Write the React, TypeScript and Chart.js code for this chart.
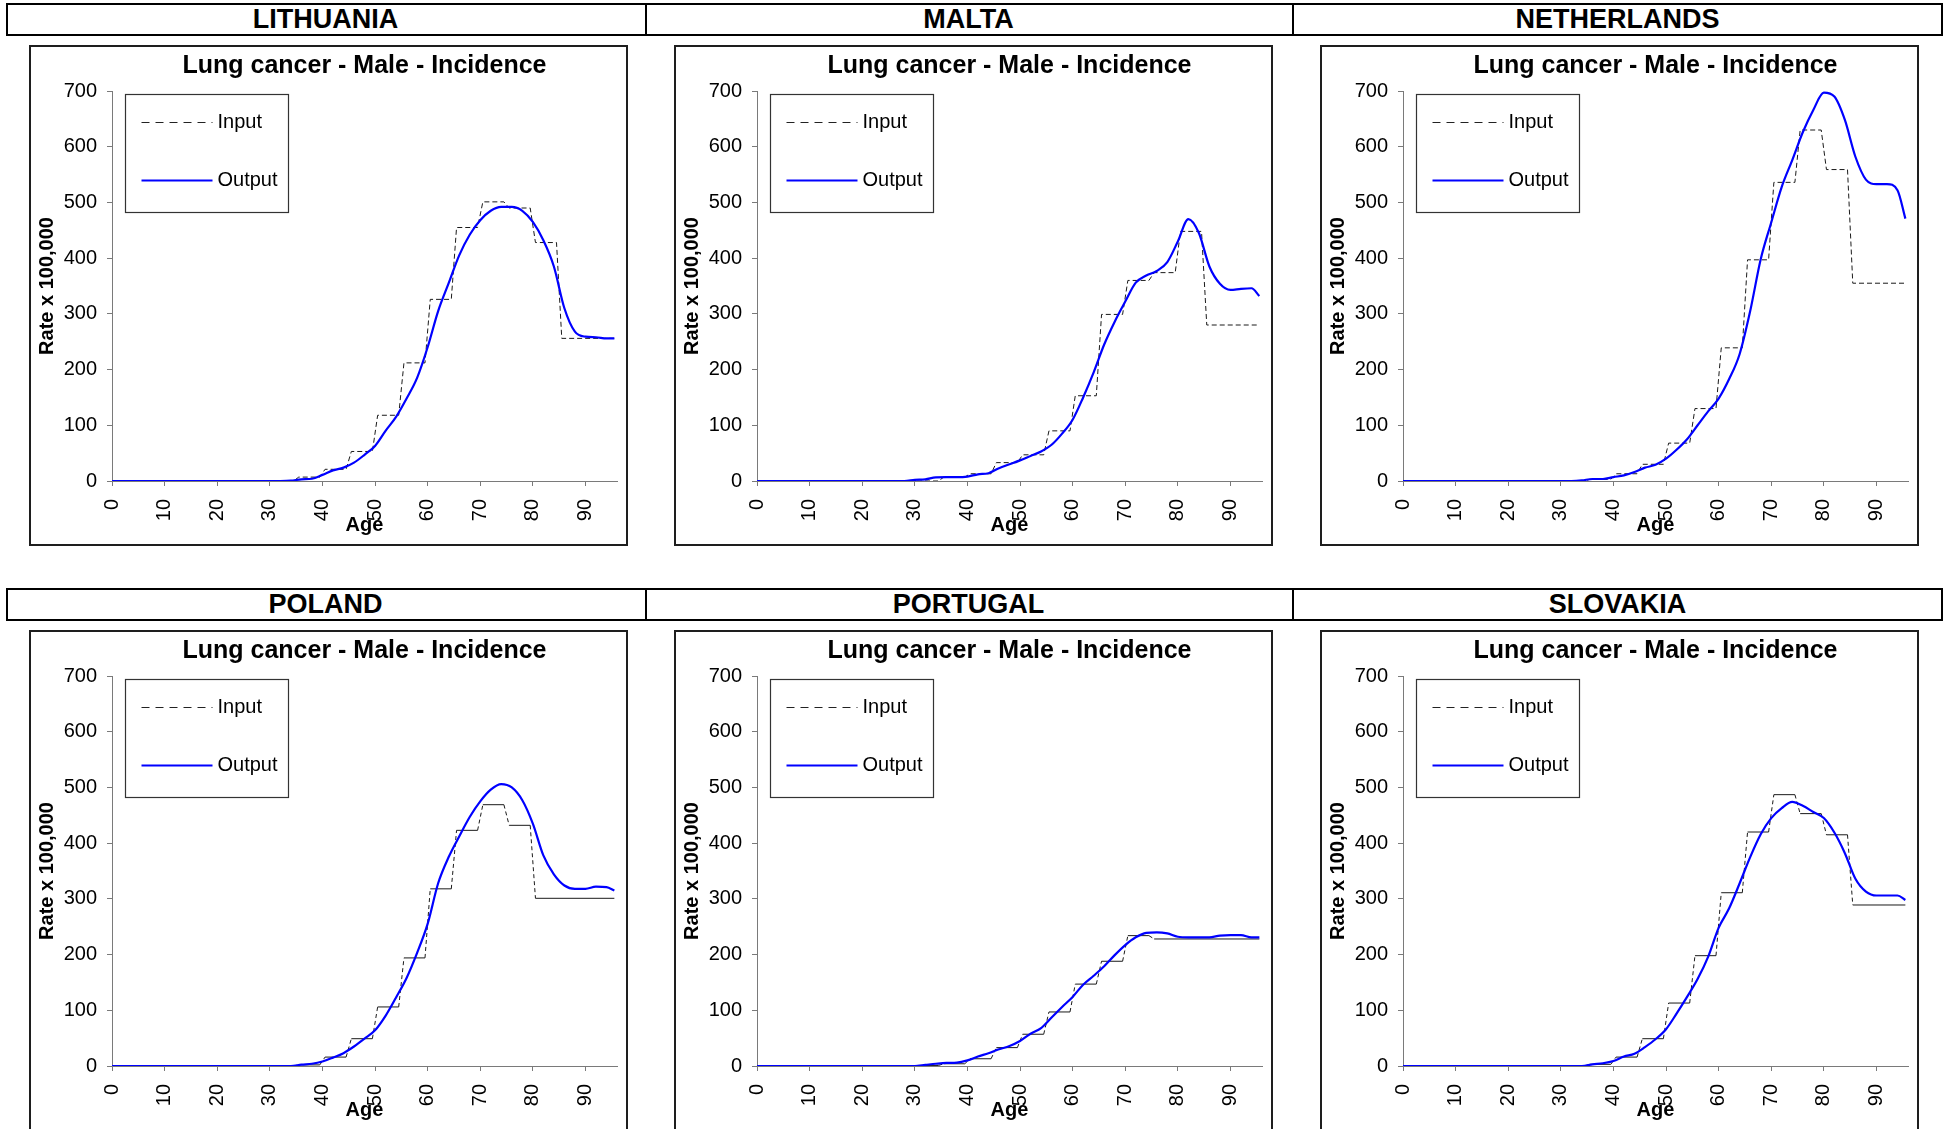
import React, { useEffect, useRef } from "react";
import { Chart, registerables } from "chart.js";

Chart.register(...registerables);

const FONT = "'Liberation Sans', Arial, Helvetica, sans-serif";

// ---------- text ----------
const COUNTRIES = ["LITHUANIA", "MALTA", "NETHERLANDS", "POLAND", "PORTUGAL", "SLOVAKIA"];
const CHART_TITLE = "Lung cancer - Male - Incidence";
const X_TITLE = "Age";
const Y_TITLE = "Rate x 100,000";
const INPUT_LABEL = "Input";
const OUTPUT_LABEL = "Output";

// ---------- axes ----------
const X_TICKS = [0, 10, 20, 30, 40, 50, 60, 70, 80, 90];
const X_MAX = 96;
const Y_MAX = 700;
const Y_STEP = 100;

// ---------- data ----------
// 5-year age groups (start ages); last group of each country is open-ended
const GROUP_STARTS = [0, 5, 10, 15, 20, 25, 30, 35, 40, 45, 50, 55, 60, 65, 70, 75, 80, 85];
const AGE_END = 95.5;

// ages at which the smoothed output curve was read
const OUT_AGES = [0, 28, 30, 32, 34, 36, 38, 40, 42, 44, 46, 48, 50, 52, 54, 56, 58, 60, 62, 64, 66, 68, 70, 72, 74, 76, 78, 80, 82, 84, 86, 88, 90, 92, 94, 95.5];

const LITHUANIA_INPUT = [0, 0, 0, 0, 0, 0, 0, 7, 21, 53, 118, 212, 326, 455, 501, 490, 428, 256];
const LITHUANIA_OUTPUT = [0, 0, 0, 0, 0.5, 3, 4, 11, 19, 24, 33, 47, 63, 90, 115, 148, 185, 240, 305, 355, 405, 442, 468, 485, 492, 492, 485, 465, 432, 385, 310, 268, 259, 258, 256, 256];

const MALTA_INPUT = [0, 0, 0, 0, 0, 0, 0, 7, 13, 33, 47, 90, 153, 299, 360, 374, 448, 280];
const MALTA_OUTPUT = [0, 0, 2, 3, 6.6, 7, 7, 8, 12, 14, 23, 30, 37, 45, 53, 65, 85, 110, 150, 195, 245, 286, 322, 356, 369, 377, 393, 430, 470, 445, 385, 354, 343, 345, 346, 332];

const NETHERLANDS_INPUT = [0, 0, 0, 0, 0, 0, 0, 3, 13, 30, 68, 130, 239, 397, 536, 630, 559, 355];
const NETHERLANDS_OUTPUT = [0, 0, 0, 0, 1, 3.6, 3.6, 7, 10, 16, 24, 29, 40, 56, 75, 100, 125, 148, 183, 228, 305, 398, 464, 528, 576, 626, 666, 697, 690, 648, 582, 541, 533, 533, 522, 471];

const POLAND_INPUT = [0, 0, 0, 0, 0, 0, 0, 2, 16, 49, 106, 194, 318, 423, 469, 432, 301];
const POLAND_OUTPUT = [0, 0, 0, 0, 0, 2.5, 4, 8, 15, 23, 35, 49, 64, 90, 123, 158, 203, 255, 328, 375, 412, 447, 475, 496, 506, 500, 477, 435, 378, 344, 324, 318, 318, 322, 321, 315];

const PORTUGAL_INPUT = [0, 0, 0, 0, 0, 0, 1, 4, 13, 33, 57, 97, 147, 188, 234, 228];
const PORTUGAL_OUTPUT = [0, 0, 0, 2, 4, 5.5, 6, 10, 17, 23, 30, 36, 45, 58, 68, 87, 106, 124, 146, 162, 179, 199, 217, 231, 239, 240, 238, 232, 231, 231, 231, 234, 235, 235, 231, 231];

const SLOVAKIA_INPUT = [0, 0, 0, 0, 0, 0, 0, 3, 16, 49, 113, 198, 311, 420, 487, 453, 415, 289];
const SLOVAKIA_OUTPUT = [0, 0, 0, 0, 0, 3, 5, 9, 17, 22, 34, 48, 66, 94, 124, 156, 196, 248, 283, 328, 375, 416, 445, 463, 474, 467, 456, 445, 419, 382, 336, 313, 306, 306, 306, 298];

const INPUTS = [LITHUANIA_INPUT, MALTA_INPUT, NETHERLANDS_INPUT, POLAND_INPUT, PORTUGAL_INPUT, SLOVAKIA_INPUT];
const OUTPUTS = [LITHUANIA_OUTPUT, MALTA_OUTPUT, NETHERLANDS_OUTPUT, POLAND_OUTPUT, PORTUGAL_OUTPUT, SLOVAKIA_OUTPUT];

// ---------- layout / style ----------
const COL_LEFT = [30, 675, 1321];
const ROW_TOP = [46, 631];
const HEADER_TOP = [3, 588];
const HEADER_LEFT = 6;
const HEADER_RIGHT = 1943;
const HEADER_HEIGHT = 33;
const HEADER_DIVIDERS = [645, 1292];
const LINE = 2;
const BOX_W = 597;
const BOX_H = 499;
const SOLID_STEPS = [false, false, false, true, true, true];
const AXIS_COLOR = "#7a7a7a";

function buildInputPoints(values: number[]) {
  const pts: { x: number; y: number }[] = [];
  values.forEach((v, i) => {
    const start = i === 0 ? 0 : GROUP_STARTS[i] + 0.5;
    const end = i === values.length - 1 ? AGE_END : GROUP_STARTS[i + 1] - 0.5;
    pts.push({ x: start, y: v }, { x: end, y: v });
  });
  return pts;
}

const boxLegend = {
  id: "boxLegend",
  afterDatasetsDraw(chart: any) {
    const { ctx, chartArea } = chart;
    const ds = chart.data.datasets;
    const x = Math.round(chartArea.left + 13) + 0.5;
    const y = Math.round(chartArea.top + 3) + 0.5;
    const w = 163;
    const h = 118;
    ctx.save();
    ctx.fillStyle = "#ffffff";
    ctx.fillRect(x, y, w, h);
    ctx.strokeStyle = "#333333";
    ctx.lineWidth = 1.2;
    ctx.strokeRect(x, y, w, h);
    // Input sample
    ctx.beginPath();
    ctx.strokeStyle = "#222222";
    ctx.lineWidth = 1;
    ctx.setLineDash([8, 6]);
    ctx.moveTo(x + 16, y + 28);
    ctx.lineTo(x + 87, y + 28);
    ctx.stroke();
    // Output sample
    ctx.beginPath();
    ctx.setLineDash([]);
    ctx.strokeStyle = "#0000ff";
    ctx.lineWidth = 2.2;
    ctx.moveTo(x + 16, y + 86);
    ctx.lineTo(x + 87, y + 86);
    ctx.stroke();
    ctx.fillStyle = "#000000";
    ctx.font = `20px ${FONT}`;
    ctx.textBaseline = "middle";
    ctx.textAlign = "left";
    ctx.fillText(ds[0].label, x + 92, y + 28);
    ctx.fillText(ds[1].label, x + 92, y + 86);
    ctx.restore();
  },
};

function Panel({ idx }: { idx: number }) {
  const ref = useRef<HTMLCanvasElement>(null);
  const col = idx % 3;
  const row = Math.floor(idx / 3);
  const left = COL_LEFT[col];
  const top = ROW_TOP[row];

  useEffect(() => {
    if (!ref.current) return;
    const solid = SOLID_STEPS[idx];
    const inputDs: any = {
      label: INPUT_LABEL,
      data: buildInputPoints(INPUTS[idx]),
      borderColor: "#1a1a1a",
      borderWidth: 1,
      borderDash: [5, 3],
      pointRadius: 0,
      tension: 0,
      order: 1,
    };
    if (solid) {
      inputDs.segment = {
        borderDash: (c: any) => (c.p0.parsed.y === c.p1.parsed.y ? [] : [4, 3]),
      };
    }
    const outputDs: any = {
      label: OUTPUT_LABEL,
      data: OUT_AGES.map((a, i) => ({ x: a, y: OUTPUTS[idx][i] })),
      borderColor: "#0000ff",
      borderWidth: 2.2,
      pointRadius: 0,
      cubicInterpolationMode: "monotone",
      order: 0,
    };
    const chart = new Chart(ref.current, {
      type: "line",
      data: { datasets: [inputDs, outputDs] },
      options: {
        responsive: false,
        animation: false,
        devicePixelRatio: 1,
        layout: { padding: { left: 0, right: 10, top: 0, bottom: 0 } },
        plugins: {
          legend: { display: false },
          tooltip: { enabled: false },
          title: {
            display: true,
            text: CHART_TITLE,
            fullSize: false,
            color: "#000",
            font: { family: FONT, size: 25, weight: "bold", lineHeight: 1.2 },
            padding: { top: 5, bottom: 10 },
          },
        },
        scales: {
          x: {
            type: "linear",
            min: 0,
            max: X_MAX,
            afterBuildTicks: (s: any) => {
              s.ticks = X_TICKS.map((v) => ({ value: v }));
            },
            afterFit: (s: any) => {
              s.height = 64;
            },
            ticks: {
              minRotation: 90,
              maxRotation: 90,
              autoSkip: false,
              padding: 13,
              color: "#000",
              font: { family: FONT, size: 20 },
            },
            grid: { drawOnChartArea: false, drawTicks: true, tickLength: 5, color: AXIS_COLOR },
            border: { display: true, color: AXIS_COLOR, width: 1 },
            title: {
              display: true,
              text: X_TITLE,
              color: "#000",
              font: { family: FONT, size: 20, weight: "bold", lineHeight: 1.2 },
              padding: { top: 0, bottom: 8 },
            },
          },
          y: {
            type: "linear",
            min: 0,
            max: Y_MAX,
            afterFit: (s: any) => {
              s.width = 82;
            },
            ticks: {
              stepSize: Y_STEP,
              padding: 10,
              color: "#000",
              font: { family: FONT, size: 20 },
            },
            grid: { drawOnChartArea: false, drawTicks: true, tickLength: 5, color: AXIS_COLOR },
            border: { display: true, color: AXIS_COLOR, width: 1 },
            title: {
              display: true,
              text: Y_TITLE,
              color: "#000",
              font: { family: FONT, size: 20, weight: "bold", lineHeight: 1.2 },
              padding: { top: 5, bottom: 0 },
            },
          },
        },
      } as any,
      plugins: [boxLegend],
    });
    return () => chart.destroy();
  }, [idx]);

  return (
    <>
      <canvas
        ref={ref}
        width={BOX_W}
        height={BOX_H}
        style={{ position: "absolute", left, top, width: BOX_W, height: BOX_H, display: "block" }}
      />
      <div
        style={{
          position: "absolute",
          left: left - 1,
          top: top - 1,
          width: BOX_W + 2,
          height: BOX_H + 2,
          border: "2px solid #1e1e1e",
          boxSizing: "border-box",
          pointerEvents: "none",
        }}
      />
    </>
  );
}

function Rule({ l, t, w, h }: { l: number; t: number; w: number; h: number }) {
  return <div style={{ position: "absolute", left: l, top: t, width: w, height: h, background: "#000" }} />;
}

function Header({ row }: { row: number }) {
  const top = HEADER_TOP[row];
  const bounds = [HEADER_LEFT, ...HEADER_DIVIDERS, HEADER_RIGHT];
  const width = HEADER_RIGHT - HEADER_LEFT;
  return (
    <>
      {[0, 1, 2].map((c) => (
        <div
          key={c}
          style={{
            position: "absolute",
            left: bounds[c],
            top,
            width: bounds[c + 1] - bounds[c],
            height: HEADER_HEIGHT,
            lineHeight: HEADER_HEIGHT + "px",
            textAlign: "center",
            fontFamily: FONT,
            fontWeight: "bold",
            fontSize: 27,
            color: "#000",
          }}
        >
          {COUNTRIES[row * 3 + c]}
        </div>
      ))}
      <Rule l={HEADER_LEFT} t={top} w={width} h={LINE} />
      <Rule l={HEADER_LEFT} t={top + HEADER_HEIGHT - LINE} w={width} h={LINE} />
      <Rule l={HEADER_LEFT} t={top} w={LINE} h={HEADER_HEIGHT} />
      <Rule l={HEADER_RIGHT - LINE} t={top} w={LINE} h={HEADER_HEIGHT} />
      {HEADER_DIVIDERS.map((d) => (
        <Rule key={d} l={d} t={top} w={LINE} h={HEADER_HEIGHT} />
      ))}
    </>
  );
}

export default function App() {
  return (
    <div style={{ position: "absolute", left: 0, top: 0, width: 1951, height: 1129, background: "#fff", overflow: "hidden" }}>
      <Header row={0} />
      <Header row={1} />
      {[0, 1, 2, 3, 4, 5].map((i) => (
        <Panel key={i} idx={i} />
      ))}
    </div>
  );
}
